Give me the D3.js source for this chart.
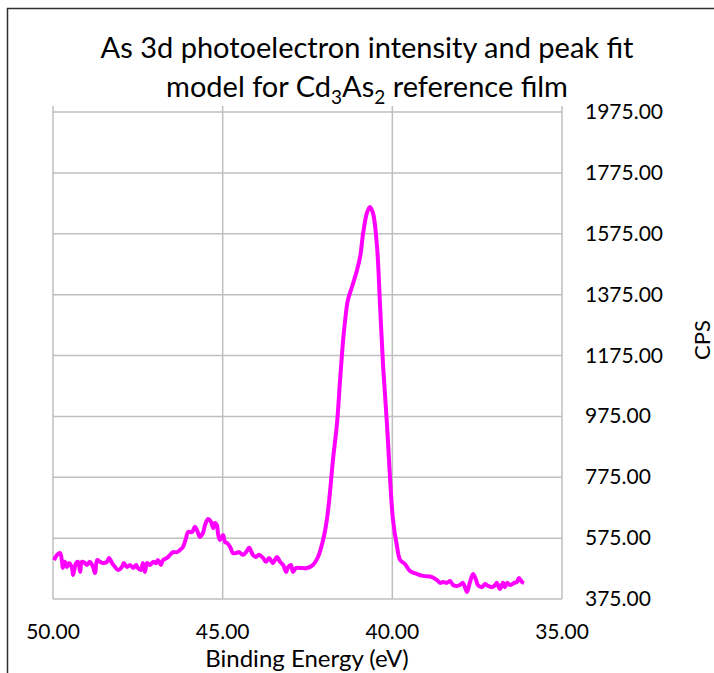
<!DOCTYPE html>
<html>
<head>
<meta charset="utf-8">
<script src="https://cdn.jsdelivr.net/npm/d3@7"></script>
<style>
  body { margin: 0; background: #fff; }
  text { font-family: Lato, "Open Sans", sans-serif; fill: #000; }
</style>
</head>
<body>
<script>
(function(){

    // binding energy (eV) and counts per second
    var bindingEnergy = [
        49.97, 49.88, 49.79, 49.73, 49.71, 49.65, 49.59, 49.53, 49.44, 49.41,
        49.32, 49.26, 49.20, 49.15, 49.06, 49.00, 48.91, 48.82, 48.76, 48.70,
        48.61, 48.53, 48.41, 48.35, 48.26, 48.17, 48.08, 47.97, 47.91, 47.82,
        47.73, 47.64, 47.55, 47.50, 47.41, 47.35, 47.29, 47.23, 47.14, 47.05,
        46.96, 46.91, 46.82, 46.76, 46.64, 46.55, 46.46, 46.35, 46.26, 46.17,
        46.08, 46.02, 45.90, 45.82, 45.76, 45.67, 45.58, 45.52, 45.43, 45.34,
        45.28, 45.23, 45.17, 45.14, 45.08, 44.99, 44.93, 44.87, 44.78, 44.70,
        44.61, 44.52, 44.40, 44.31, 44.22, 44.11, 44.02, 43.93, 43.81, 43.72,
        43.63, 43.52, 43.40, 43.31, 43.22, 43.13, 43.07, 42.99, 42.93, 42.84,
        42.72, 42.51, 42.34, 42.19, 42.04, 41.93, 41.84, 41.75, 41.63, 41.54,
        41.45, 41.39, 41.31, 41.19, 41.04, 40.95, 40.86, 40.75, 40.66, 40.57,
        40.45, 40.36, 40.27, 40.16, 40.07, 39.98, 39.86, 39.77, 39.63, 39.48,
        39.27, 39.10, 38.83, 38.68, 38.59, 38.51, 38.39, 38.30, 38.21, 38.09,
        38.01, 37.92, 37.86, 37.80, 37.71, 37.62, 37.53, 37.48, 37.36, 37.27,
        37.18, 37.06, 36.97, 36.92, 36.83, 36.74, 36.68, 36.62, 36.53, 36.41,
        36.33, 36.27, 36.18, 36.12
    ];

    var cps = [
        503, 520, 526, 493, 477, 497, 480, 493, 477, 454,
        493, 497, 464, 497, 493, 487, 497, 480, 460, 503,
        497, 493, 497, 510, 493, 480, 470, 480, 493, 480,
        487, 477, 487, 477, 470, 493, 464, 493, 487, 497,
        493, 503, 487, 503, 510, 520, 529, 529, 536, 546,
        575, 595, 595, 612, 602, 579, 592, 618, 638, 628,
        608, 625, 618, 592, 569, 585, 562, 559, 546, 526,
        526, 529, 520, 529, 543, 520, 513, 520, 510, 497,
        510, 493, 513, 497, 487, 464, 480, 487, 464, 477,
        477, 477, 487, 513, 569, 635, 723, 832, 953, 1094,
        1226, 1292, 1357, 1400, 1456, 1499, 1577, 1643, 1663, 1643,
        1531, 1334, 1137, 953, 776, 635, 546, 503, 490, 467,
        457, 451, 447, 437, 428, 431, 428, 434, 421, 418,
        421, 428, 414, 398, 431, 457, 437, 421, 414, 424,
        418, 414, 421, 428, 408, 428, 414, 428, 421, 428,
        431, 444, 431, 428
    ];

    var xTicks = [50, 45, 40, 35];
    var yTicks = [375, 575, 775, 975, 1175, 1375, 1575, 1775, 1975];

    var titleLine1 = "As 3d photoelectron intensity and peak fit";
    var xTitle = "Binding Energy (eV)";
    var yTitle = "CPS";

    var width = 714,
        height = 673;

    var plot = { left: 53, right: 562, top: 112, bottom: 599 };

    var svg = d3.select("body")
        .append("svg")
        .attr("width", width)
        .attr("height", height);

    // chart frame (runs off the right and bottom edge)
    svg.append("rect")
        .attr("x", 7.5)
        .attr("y", 8.5)
        .attr("width", 720)
        .attr("height", 680)
        .attr("fill", "none")
        .attr("stroke", "#303030")
        .attr("stroke-width", 1.5);

    var x = d3.scaleLinear()
        .domain([50, 35])
        .range([plot.left, plot.right]);

    var y = d3.scaleLinear()
        .domain([375, 1975])
        .range([plot.bottom, plot.top]);

    // gridlines
    svg.append("g")
        .selectAll("line")
        .data(yTicks)
        .enter()
        .append("line")
        .attr("x1", plot.left)
        .attr("x2", plot.right)
        .attr("y1", function(d){ return y(d); })
        .attr("y2", function(d){ return y(d); })
        .attr("stroke", "#bfbfbf")
        .attr("stroke-width", 1.5);

    svg.append("g")
        .selectAll("line")
        .data(xTicks)
        .enter()
        .append("line")
        .attr("x1", function(d){ return x(d); })
        .attr("x2", function(d){ return x(d); })
        .attr("y1", plot.top - 6)
        .attr("y2", plot.bottom)
        .attr("stroke", "#bfbfbf")
        .attr("stroke-width", 1.5);

    // tick labels
    svg.append("g")
        .selectAll("text")
        .data(xTicks)
        .enter()
        .append("text")
        .attr("x", function(d){ return x(d); })
        .attr("y", 639)
        .attr("text-anchor", "middle")
        .style("font-size", "21px")
        .text(function(d){ return d3.format(".2f")(d); });

    svg.append("g")
        .selectAll("text")
        .data(yTicks)
        .enter()
        .append("text")
        .attr("x", 585)
        .attr("y", function(d){ return y(d) + 7; })
        .style("font-size", "21px")
        .text(function(d){ return d3.format(".2f")(d); });

    // axis titles
    svg.append("text")
        .attr("x", 307)
        .attr("y", 667)
        .attr("text-anchor", "middle")
        .style("font-size", "24px")
        .text(xTitle);

    svg.append("text")
        .attr("transform", "translate(710,340) rotate(-90)")
        .attr("text-anchor", "middle")
        .style("font-size", "22px")
        .text(yTitle);

    // title
    svg.append("text")
        .attr("x", 367)
        .attr("y", 58)
        .attr("text-anchor", "middle")
        .style("font-size", "29px")
        .text(titleLine1);

    var t2 = svg.append("text")
        .attr("x", 367)
        .attr("y", 97)
        .attr("text-anchor", "middle")
        .style("font-size", "29px");
    t2.append("tspan").text("model for Cd");
    t2.append("tspan").attr("dy", 7).style("font-size", "19px").text("3");
    t2.append("tspan").attr("dy", -7).text("As");
    t2.append("tspan").attr("dy", 7).style("font-size", "19px").text("2");
    t2.append("tspan").attr("dy", -7).text(" reference film");

    // spectrum
    var points = bindingEnergy.map(function(be, i){
        return { be: be, cps: cps[i] };
    });

    var line = d3.line()
        .x(function(d){ return x(d.be); })
        .y(function(d){ return y(d.cps); })
        .curve(d3.curveCatmullRom.alpha(0.5));

    svg.append("path")
        .datum(points)
        .attr("d", line)
        .attr("fill", "none")
        .attr("stroke", "#ff00ff")
        .attr("stroke-width", 4)
        .attr("stroke-linejoin", "round");

})()
</script>
</body>
</html>
